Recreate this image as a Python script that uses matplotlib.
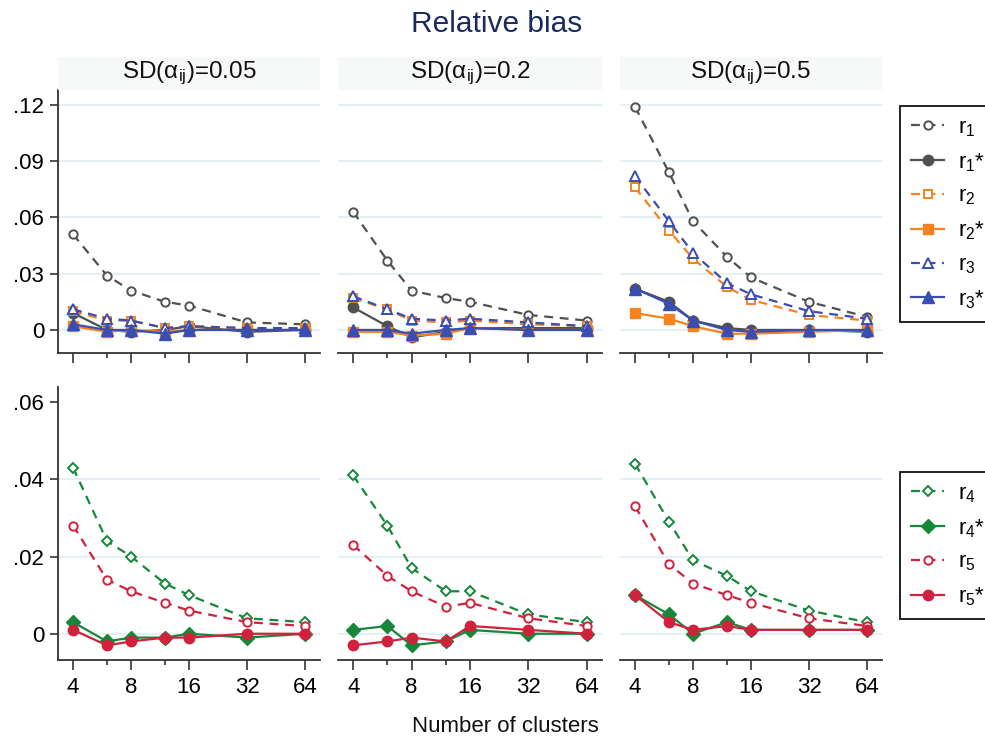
import matplotlib
matplotlib.use("Agg")
import matplotlib.pyplot as plt
from matplotlib.patches import Rectangle

plt.rcParams['font.family'] = ['Liberation Sans', 'DejaVu Sans']
plt.rcParams['mathtext.fontset'] = 'custom'
plt.rcParams['mathtext.rm'] = 'Liberation Sans'
plt.rcParams['mathtext.it'] = 'Liberation Sans:italic'
plt.rcParams['mathtext.default'] = 'regular'

# ---------------- data ----------------
clusters = [4, 6, 8, 12, 16, 32, 64]
xtick_vals = [4, 8, 16, 32, 64]
xtick_labels = ['4', '8', '16', '32', '64']
panel_titles = ['SD(α$_{ij}$)=0.05', 'SD(α$_{ij}$)=0.2', 'SD(α$_{ij}$)=0.5']

top_yticks = [0, 0.03, 0.06, 0.09, 0.12]
top_ylabels = ['0', '.03', '.06', '.09', '.12']
bot_yticks = [0, 0.02, 0.04, 0.06]
bot_ylabels = ['0', '.02', '.04', '.06']

# each series: one list per panel (SD = 0.05, 0.2, 0.5)
r1 = [[0.051, 0.029, 0.021, 0.015, 0.013, 0.004, 0.003],
      [0.063, 0.037, 0.021, 0.017, 0.015, 0.008, 0.005],
      [0.119, 0.084, 0.058, 0.039, 0.028, 0.015, 0.007]]
r1s = [[0.009, 0.000, -0.001, 0.000, 0.002, -0.001, 0.000],
       [0.012, 0.002, -0.004, -0.001, 0.001, 0.001, 0.001],
       [0.022, 0.015, 0.005, 0.001, 0.000, 0.000, -0.001]]
r2 = [[0.010, 0.005, 0.005, 0.001, 0.002, 0.001, 0.001],
      [0.017, 0.011, 0.005, 0.004, 0.005, 0.003, 0.002],
      [0.076, 0.053, 0.038, 0.023, 0.016, 0.008, 0.005]]
r2s = [[0.002, -0.001, 0.000, -0.001, 0.000, 0.000, 0.000],
       [-0.001, -0.001, -0.003, -0.002, 0.001, 0.000, 0.000],
       [0.009, 0.006, 0.002, -0.002, -0.002, -0.001, 0.000]]
r3 = [[0.011, 0.006, 0.005, 0.001, 0.002, 0.001, 0.001],
      [0.018, 0.011, 0.006, 0.005, 0.006, 0.004, 0.002],
      [0.082, 0.058, 0.041, 0.025, 0.019, 0.010, 0.006]]
r3s = [[0.003, 0.000, 0.000, -0.002, 0.000, 0.000, 0.000],
       [0.000, 0.000, -0.002, 0.000, 0.001, 0.000, 0.000],
       [0.022, 0.014, 0.005, 0.000, -0.001, 0.000, 0.000]]
r4 = [[0.043, 0.024, 0.020, 0.013, 0.010, 0.004, 0.003],
      [0.041, 0.028, 0.017, 0.011, 0.011, 0.005, 0.003],
      [0.044, 0.029, 0.019, 0.015, 0.011, 0.006, 0.003]]
r4s = [[0.003, -0.002, -0.001, -0.001, 0.000, -0.001, 0.000],
       [0.001, 0.002, -0.003, -0.002, 0.001, 0.000, 0.000],
       [0.010, 0.005, 0.000, 0.003, 0.001, 0.001, 0.001]]
r5 = [[0.028, 0.014, 0.011, 0.008, 0.006, 0.003, 0.002],
      [0.023, 0.015, 0.011, 0.007, 0.008, 0.004, 0.002],
      [0.033, 0.018, 0.013, 0.010, 0.008, 0.004, 0.002]]
r5s = [[0.001, -0.003, -0.002, -0.001, -0.001, 0.000, 0.000],
       [-0.003, -0.002, -0.001, -0.002, 0.002, 0.001, 0.000],
       [0.010, 0.003, 0.001, 0.002, 0.001, 0.001, 0.001]]

# ---------------- styles ----------------
GRAY = '#505050'
ORANGE = '#f5831f'
BLUE = '#3a4db3'
GREEN = '#17873a'
RED = '#d1223d'
AXC = '#333333'
GRID = '#e4f0f3'

top_series = [
    (r1, 'r$_1$', GRAY, 'o', False),
    (r1s, 'r$_1$*', GRAY, 'o', True),
    (r2, 'r$_2$', ORANGE, 's', False),
    (r2s, 'r$_2$*', ORANGE, 's', True),
    (r3, 'r$_3$', BLUE, '^', False),
    (r3s, 'r$_3$*', BLUE, '^', True),
]
bot_series = [
    (r4, 'r$_4$', GREEN, 'D', False),
    (r4s, 'r$_4$*', GREEN, 'D', True),
    (r5, 'r$_5$', RED, 'o', False),
    (r5s, 'r$_5$*', RED, 'o', True),
]

W, H = 985, 739
fig = plt.figure(figsize=(W / 100, H / 100), dpi=100)

def fx(px):
    return px / W

def fy(py):
    return 1 - py / H

col_x = [(58, 320), (338, 602), (620, 882)]
top_y = (90, 353)
bot_y = (387, 660)


def style_line(color, marker, filled):
    kw = dict(color=color, marker=marker, lw=1.6)
    if filled:
        kw.update(ls='-', mfc=color, mec=color,
                  ms=7.5 if marker != '^' else 8, mew=1)
    else:
        kw.update(ls=(0, (4, 3)), mfc='white', mec=color,
                  ms=6 if marker != '^' else 6.5, mew=1.4)
        if marker == 'D':
            kw['ms'] = 5.5
    return kw


def make_axes(row, c):
    (x0, x1) = col_x[c]
    (y0, y1) = top_y if row == 0 else bot_y
    ax = fig.add_axes([fx(x0), fy(y1), fx(x1) - fx(x0), fy(y0) - fy(y1)])
    ax.set_xscale('log', base=2)
    ax.set_xlim(3.34, 76.6)
    if row == 0:
        ax.set_ylim(-0.0123, 0.128)
        yt, yl = top_yticks, top_ylabels
    else:
        ax.set_ylim(-0.0068, 0.0639)
        yt, yl = bot_yticks, bot_ylabels
    for v in yt:
        if row == 1 and v == yt[-1]:
            continue
        ax.axhline(v, color=GRID, lw=1.6, zorder=0)
    ax.set_yticks(yt)
    ax.set_xticks(xtick_vals)
    ax.set_xticks([6, 12], minor=True)
    ax.xaxis.set_minor_formatter(matplotlib.ticker.NullFormatter())
    for s in ['top', 'right']:
        ax.spines[s].set_visible(False)
    ax.spines['bottom'].set_color(AXC)
    ax.spines['bottom'].set_linewidth(1.3)
    ax.spines['left'].set_color(AXC)
    ax.spines['left'].set_linewidth(1.3)
    ax.tick_params(axis='x', which='major', length=7, width=1.2, color=AXC,
                   labelsize=16, pad=5)
    ax.tick_params(axis='x', which='minor', length=3.5, width=1.2, color=AXC)
    if row == 1:
        ax.set_xticklabels(xtick_labels)
    else:
        ax.set_xticklabels([])
    if c == 0:
        ax.set_yticklabels(yl)
        ax.tick_params(axis='y', length=6, width=1.2, color=AXC,
                       labelsize=16, pad=4)
    else:
        ax.spines['left'].set_visible(False)
        ax.tick_params(axis='y', length=0, labelleft=False)
    ax.set_facecolor('none')
    return ax


handles_top, handles_bot = [], []
for c in range(3):
    ax = make_axes(0, c)
    for data, lab, col, mk, filled in top_series:
        ln, = ax.plot(clusters, data[c], label=lab, clip_on=False,
                      **style_line(col, mk, filled))
        if c == 0:
            handles_top.append(ln)
    (x0, x1) = col_x[c]
    fig.patches.append(Rectangle((fx(x0), fy(90)), fx(x1) - fx(x0),
                                 fy(57) - fy(90), transform=fig.transFigure,
                                 facecolor='#f7f8f8', edgecolor='none', zorder=0))
    fig.text(fx((x0 + x1) / 2), fy(73), panel_titles[c], ha='center',
             va='center', fontsize=17.5, color='#111111')

for c in range(3):
    ax = make_axes(1, c)
    for data, lab, col, mk, filled in bot_series:
        ln, = ax.plot(clusters, data[c], label=lab, clip_on=False,
                      **style_line(col, mk, filled))
        if c == 0:
            handles_bot.append(ln)

leg_kw = dict(loc='upper left', frameon=True, fancybox=False,
              edgecolor='#111111', framealpha=1, fontsize=16,
              handlelength=1.5, handletextpad=0.6, borderaxespad=0,
              borderpad=0.5, labelspacing=0.55)
l1 = fig.legend(handles=handles_top, bbox_to_anchor=(fx(900), fy(106)), **leg_kw)
l1.get_frame().set_linewidth(1.3)
l2 = fig.legend(handles=handles_bot, bbox_to_anchor=(fx(900), fy(472)), **leg_kw)
l2.get_frame().set_linewidth(1.3)

fig.text(fx(497), fy(24), 'Relative bias', ha='center', va='center',
         fontsize=21.5, color='#1b2a5c')
fig.text(fx(505), fy(727), 'Number of clusters', ha='center', va='center',
         fontsize=16, color='#111111')

fig.savefig('out.png', dpi=100)
